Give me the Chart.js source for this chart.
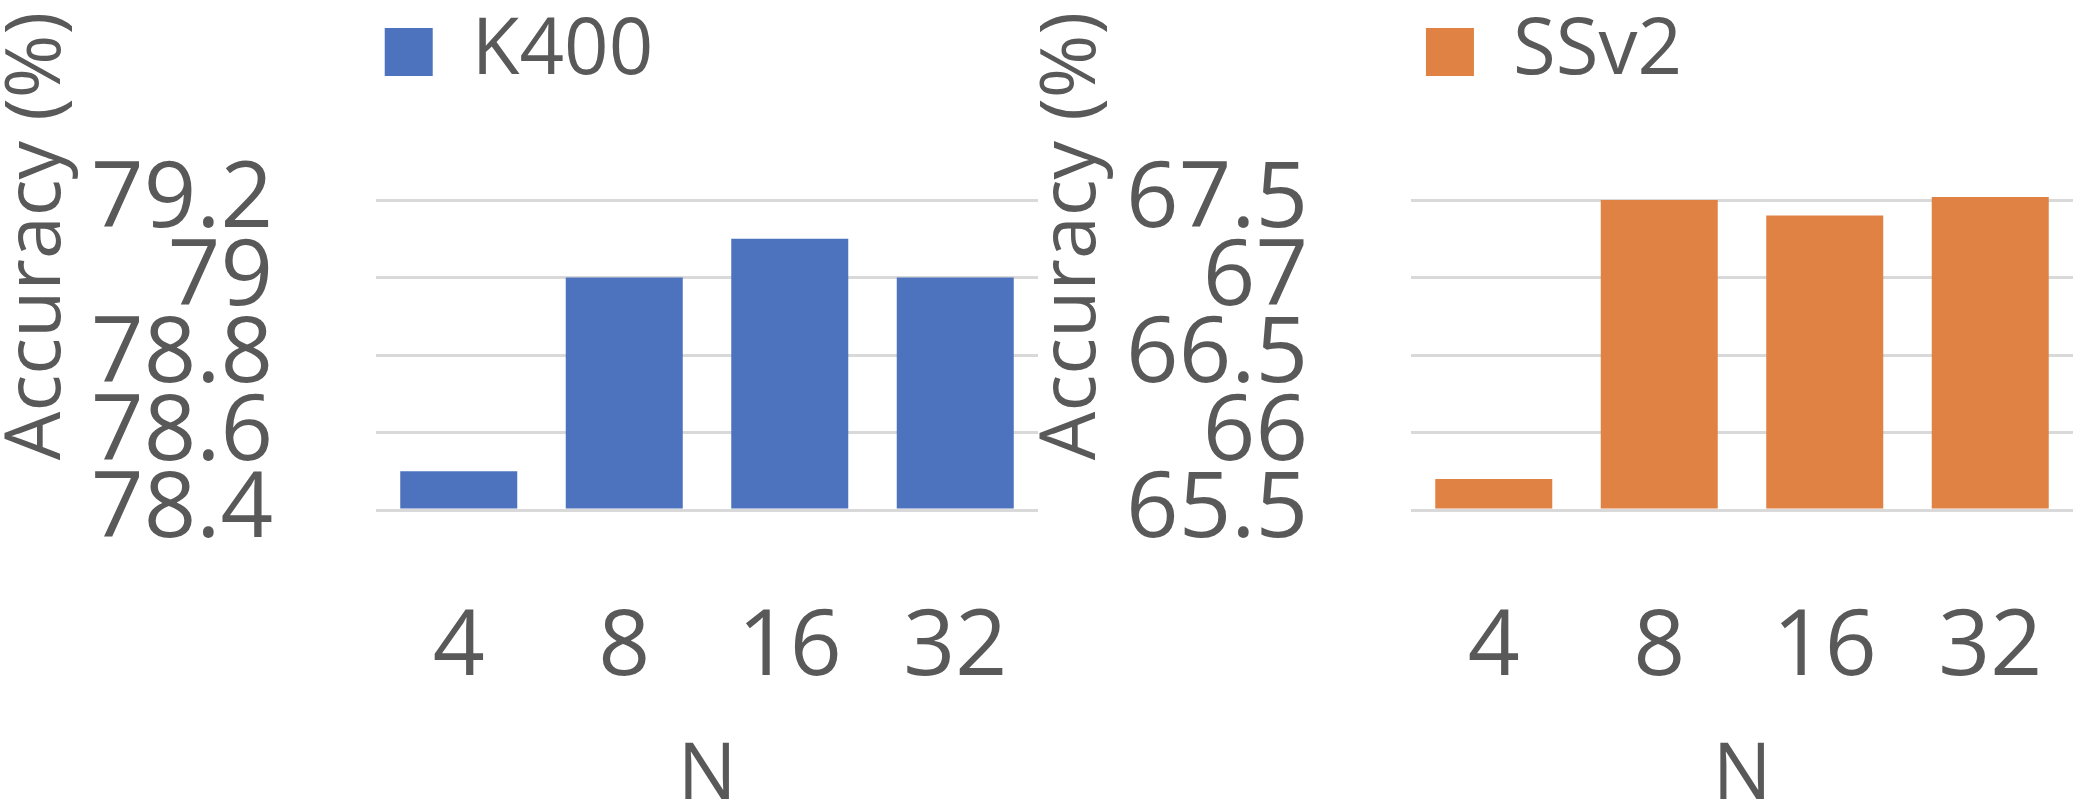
<!DOCTYPE html>
<html><head><meta charset="utf-8">
<script src="https://cdn.jsdelivr.net/npm/chart.js@4.4.0/dist/chart.umd.min.js"></script>
<style>
html,body{margin:0;padding:0;background:#fff;width:2080px;height:810px;overflow:hidden;}
canvas{position:absolute;top:0;}
#c1{left:0;} #c2{left:1035px;}
</style></head><body>
<canvas id="c1" width="1040" height="810"></canvas>
<canvas id="c2" width="1040" height="810"></canvas>
<script>
const categories = ['4', '8', '16', '32'];
const k400Label = 'K400';
const k400Values = [78.5, 79.0, 79.1, 79.0];
const ssv2Label = 'SSv2';
const ssv2Values = [65.7, 67.5, 67.4, 67.52];
const k400Ticks = [78.4, 78.6, 78.8, 79.0, 79.2];
const k400TickLabels = ['78.4', '78.6', '78.8', '79', '79.2'];
const ssv2Ticks = [65.5, 66, 66.5, 67, 67.5];
const ssv2TickLabels = ['65.5', '66', '66.5', '67', '67.5'];
const yTitle = 'Accuracy (%)';
const xTitle = 'N';

const FONT = '"Open Sans", "Liberation Sans", sans-serif';
const TXT = '#595959';
Chart.defaults.font.family = FONT;
Chart.defaults.color = TXT;

const yTitlePlugin = {
  id: 'yTitleCustom',
  afterDraw(chart) {
    const ctx = chart.ctx;
    ctx.save();
    ctx.fillStyle = TXT;
    ctx.font = '77px ' + FONT;
    ctx.textAlign = 'center';
    ctx.textBaseline = 'alphabetic';
    ctx.translate(60, 236);
    ctx.rotate(-Math.PI / 2);
    ctx.fillText(yTitle, 0, 0);
    ctx.restore();
  }
};

function makeChart(id, label, values, ticks, tickLabels, color) {
  return new Chart(document.getElementById(id), {
    type: 'bar',
    data: {
      labels: categories,
      datasets: [{
        label: label,
        data: values,
        base: ticks[0],
        backgroundColor: color,
        borderWidth: 0,
        barPercentage: 0.707,
        categoryPercentage: 1,
        clip: false
      }]
    },
    options: {
      responsive: false,
      devicePixelRatio: 1,
      animation: false,
      layout: { padding: { left: 0, right: 2, top: 0, bottom: 0 } },
      plugins: {
        legend: {
          display: true,
          position: 'top',
          labels: { font: { family: FONT, size: 78 }, color: TXT, boxWidth: 48, boxHeight: 48, padding: 13 }
        },
        title: { display: true, text: '', weight: 500, padding: 0, font: { size: 10, lineHeight: '99px' } },
        tooltip: { enabled: false }
      },
      scales: {
        x: {
          grid: { display: true, drawOnChartArea: false, drawTicks: true, tickLength: 84, tickColor: 'rgba(0,0,0,0)' },
          border: { display: false },
          ticks: { font: { family: FONT, size: 91 }, color: TXT, padding: 0, maxRotation: 0, autoSkip: false },
          title: { display: true, text: xTitle, font: { family: FONT, size: 78, lineHeight: 0.85 }, color: TXT, padding: 0 },
          afterFit(s) { s.height = 300; }
        },
        y: {
          min: ticks[0],
          max: ticks[ticks.length - 1],
          grid: { color: '#d9d9d9', lineWidth: 3, drawTicks: false },
          border: { display: false },
          ticks: {
            font: { family: FONT, size: 92 }, color: TXT, padding: 103, labelOffset: 1, autoSkip: false,
            callback: (v, i) => tickLabels[i]
          },
          afterBuildTicks(s) { s.ticks = ticks.map(v => ({ value: v })); },
          afterFit(s) { s.width = 376; }
        }
      }
    },
    plugins: [yTitlePlugin]
  });
}

makeChart('c1', k400Label, k400Values, k400Ticks, k400TickLabels, '#4E73BE');
makeChart('c2', ssv2Label, ssv2Values, ssv2Ticks, ssv2TickLabels, '#DF8244');
</script>
</body></html>
